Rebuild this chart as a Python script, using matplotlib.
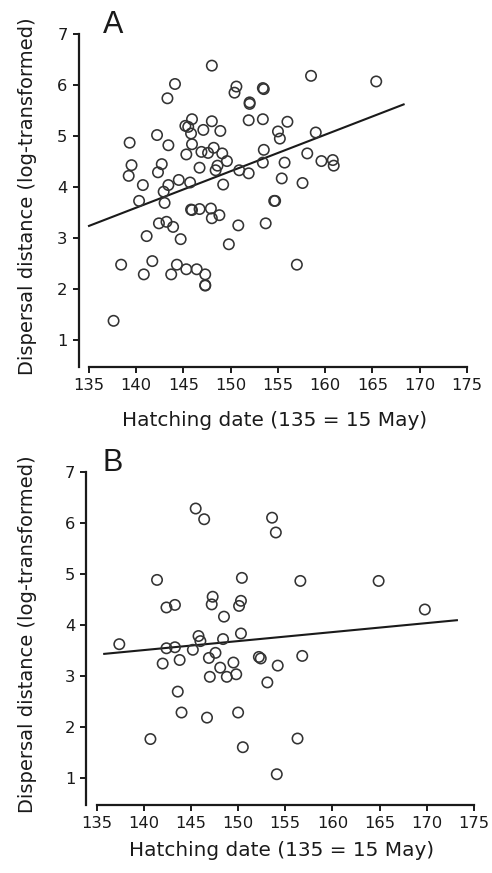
import matplotlib
matplotlib.use("Agg")
import matplotlib.pyplot as plt
from matplotlib.transforms import blended_transform_factory


# Panel A: hatching date vs dispersal distance (log-transformed)
hatch_a = [
    137.6, 138.4, 139.3, 139.5, 139.2, 140.7, 140.3, 140.8, 141.1, 141.7,
    142.2, 142.7, 142.3, 142.9, 143.0, 143.4, 143.4, 143.3, 144.1, 144.5,
    142.4, 143.2, 143.9, 144.7, 143.7, 144.3, 145.2, 145.5, 145.9, 145.8,
    145.9, 145.3, 145.7, 145.8, 145.9, 146.7, 145.3, 146.4, 147.3, 147.3,
    147.3, 147.1, 146.9, 147.6, 146.7, 148.0, 148.0, 148.2, 148.9, 148.4,
    148.6, 149.1, 149.6, 149.2, 147.9, 148.8, 148.0, 150.6, 150.4, 150.9,
    151.9, 152.0, 152.0, 151.9, 150.8, 149.8, 153.4, 153.5, 153.4, 153.5,
    153.4, 153.7, 155.0, 155.2, 156.0, 155.7, 155.4, 154.6, 154.7, 157.6,
    158.1, 158.5, 159.0, 159.6, 160.8, 160.9, 165.4, 157.0,
]
dist_a = [
    1.38, 2.48, 4.87, 4.43, 4.22, 4.04, 3.73, 2.29, 3.04, 2.55,
    5.02, 4.45, 4.29, 3.91, 3.69, 4.04, 4.82, 5.74, 6.02, 4.14,
    3.29, 3.32, 3.22, 2.98, 2.29, 2.48, 5.20, 5.18, 5.33, 5.05,
    4.84, 4.64, 4.09, 3.56, 3.55, 3.57, 2.39, 2.39, 2.29, 2.08,
    2.07, 5.12, 4.69, 4.67, 4.38, 6.38, 5.29, 4.77, 5.10, 4.33,
    4.42, 4.66, 4.51, 4.05, 3.58, 3.45, 3.39, 5.97, 5.85, 4.33,
    4.27, 5.66, 5.63, 5.31, 3.25, 2.88, 5.94, 5.92, 5.33, 4.73,
    4.48, 3.29, 5.09, 4.95, 5.28, 4.48, 4.17, 3.73, 3.73, 4.08,
    4.66, 6.18, 5.07, 4.51, 4.53, 4.42, 6.07, 2.48,
]
fit_x_a = [135.0, 168.3]
fit_y_a = [3.24, 5.62]

# Panel B
hatch_b = [
    137.4, 141.4, 142.4, 143.3, 142.4, 143.3, 145.5, 146.4, 147.3, 147.2,
    148.5, 145.8, 146.0, 148.4, 145.2, 147.6, 150.4, 150.3, 150.1, 150.3,
    153.6, 154.0, 156.6, 164.9, 169.8, 156.8, 152.2, 152.4, 142.0, 143.8,
    143.6, 144.0, 140.7, 146.9, 148.1, 149.5, 147.0, 148.8, 149.8, 146.7,
    150.0, 150.5, 153.1, 154.2, 154.1, 156.3,
]
dist_b = [
    3.63, 4.89, 4.35, 4.40, 3.55, 3.57, 6.29, 6.08, 4.56, 4.41,
    4.17, 3.79, 3.69, 3.73, 3.52, 3.46, 4.93, 4.48, 4.38, 3.84,
    6.11, 5.82, 4.87, 4.87, 4.31, 3.40, 3.38, 3.35, 3.25, 3.32,
    2.70, 2.29, 1.77, 3.36, 3.17, 3.27, 2.99, 2.99, 3.04, 2.19,
    2.29, 1.61, 2.88, 3.21, 1.08, 1.78,
]
fit_x_b = [135.8, 173.2]
fit_y_b = [3.44, 4.10]

x_ticks = [135, 140, 145, 150, 155, 160, 165, 170, 175]
y_ticks = [1, 2, 3, 4, 5, 6, 7]

X_LABEL = "Hatching date (135 = 15 May)"
Y_LABEL = "Dispersal distance (log-transformed)"

plt.rcParams["font.family"] = ["DejaVu Sans"]

INK = "#1a1a1a"


def draw_panel(fig, ax, hatch, dist, fit_x, fit_y, xlabel_pad):
    ax.scatter(
        hatch,
        dist,
        s=56,
        facecolors="none",
        edgecolors="#333333",
        linewidths=1.15,
        zorder=3,
    )
    ax.plot(fit_x, fit_y, color=INK, linewidth=1.5, zorder=2)

    ax.set_xlim(133.9, 175.3)
    ax.set_ylim(0.47, 7.05)
    ax.set_xticks(x_ticks)
    ax.set_yticks(y_ticks)

    ax.spines["top"].set_visible(False)
    ax.spines["right"].set_visible(False)
    ax.spines["left"].set_bounds(0.47, 7)
    ax.spines["bottom"].set_bounds(135, 175)
    for side in ("left", "bottom"):
        ax.spines[side].set_linewidth(1.6)
        ax.spines[side].set_color(INK)

    ax.tick_params(
        direction="out",
        length=4,
        width=1.4,
        colors=INK,
        labelsize=11.8,
        pad=4,
    )

    ax.set_xlabel(X_LABEL, fontsize=14.4, labelpad=xlabel_pad, color=INK)
    ax.set_ylabel(Y_LABEL, fontsize=14.0, color=INK)
    ax.yaxis.set_label_coords(
        37 / 492,
        0.51,
        transform=blended_transform_factory(fig.transFigure, ax.transAxes),
    )


fig = plt.figure(figsize=(4.92, 8.73), dpi=100)

ax_a = fig.add_axes([0.1598, 0.5793, 0.795, 0.3847])
draw_panel(fig, ax_a, hatch_a, dist_a, fit_x_a, fit_y_a, 13)

ax_b = fig.add_axes([0.1754, 0.0775, 0.7935, 0.3844])
draw_panel(fig, ax_b, hatch_b, dist_b, fit_x_b, fit_y_b, 7)

fig.text(0.209, 0.962, "A", fontsize=22, color=INK,
         family="Liberation Sans")
fig.text(0.209, 0.460, "B", fontsize=22, color=INK,
         family="Liberation Sans")

fig.savefig("out.png", dpi=100)
plt.close(fig)
